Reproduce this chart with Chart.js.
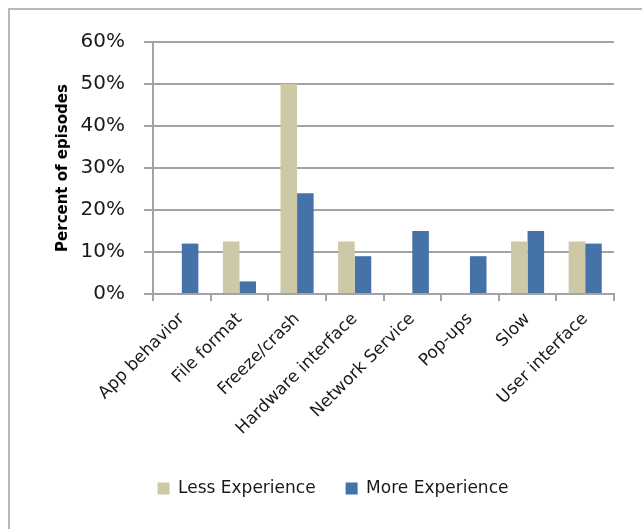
<!DOCTYPE html>
<html lang="en">

<head>
    <meta charset="UTF-8">
    <title>Percent of episodes by experience</title>
    <script src="https://cdn.jsdelivr.net/npm/chart.js@4.4.1/dist/chart.umd.min.js"></script>
    <style>
        html, body { margin: 0; padding: 0; background: #fff; overflow: hidden; width: 642px; height: 529px; }
        #frame { position: absolute; left: 8px; top: 8px; width: 700px; height: 600px; border: 2px solid #b8b8b8; }
        #myChart { position: absolute; left: 0; top: 0; }
    </style>
</head>

<body>
    <div id="frame"></div>
    <canvas id="myChart" width="642" height="529"></canvas>
    <script>
        // categories and values (percent)
        const categories = ['App behavior', 'File format', 'Freeze/crash', 'Hardware interface',
            'Network Service', 'Pop-ups', 'Slow', 'User interface'];
        const lessExperience = [0, 12.5, 50, 12.5, 0, 0, 12.5, 12.5];
        const moreExperience = [12, 3, 24, 9, 15, 9, 15, 12];
        const yTicks = [0, 10, 20, 30, 40, 50, 60];

        const gridColor = '#a3a3a3';
        const fontFam = "'DejaVu Sans', sans-serif";

        let ctx = document.getElementById('myChart').getContext('2d');
        let myChart = new Chart(ctx, {
            type: 'bar',
            data: {
                labels: categories,
                datasets: [{
                    label: 'Less Experience',
                    data: lessExperience,
                    backgroundColor: '#cdc8a5',
                    categoryPercentage: 0.575,
                    barPercentage: 1
                }, {
                    label: 'More Experience',
                    data: moreExperience,
                    backgroundColor: '#4572a7',
                    categoryPercentage: 0.575,
                    barPercentage: 1
                }]
            },
            options: {
                responsive: false,
                animation: false,
                layout: { padding: { left: 52, right: 28, top: 42, bottom: 22 } },
                plugins: {
                    tooltip: { enabled: false },
                    legend: {
                        position: 'bottom',
                        labels: {
                            color: '#1a1a1a',
                            font: { family: fontFam, size: 17 },
                            boxWidth: 12,
                            boxHeight: 12,
                            padding: 30
                        }
                    }
                },
                scales: {
                    x: {
                        afterFit: function (scale) { scale.height = 156; },
                        grid: { drawOnChartArea: false, drawTicks: true, tickLength: 7, color: gridColor, lineWidth: 2, offset: true },
                        border: { color: gridColor, width: 2 },
                        ticks: {
                            minRotation: 45,
                            maxRotation: 45,
                            padding: 8,
                            color: '#1a1a1a',
                            font: { family: fontFam, size: 17 }
                        }
                    },
                    y: {
                        min: 0,
                        max: 60,
                        afterFit: function (scale) { scale.width = 101; },
                        afterBuildTicks: function (scale) { scale.ticks = yTicks.map(v => ({ value: v })); },
                        grid: { color: gridColor, lineWidth: 2, tickLength: 9 },
                        border: { color: gridColor, width: 2 },
                        ticks: {
                            padding: 19,
                            color: '#1a1a1a',
                            font: { family: fontFam, size: 20 },
                            callback: function (value) { return value + '%'; }
                        },
                        title: {
                            display: true,
                            text: 'Percent of episodes',
                            color: '#000',
                            font: { family: fontFam, size: 15, weight: 'bold' },
                            padding: { top: 2, bottom: 0 }
                        }
                    }
                }
            }
        });
    </script>
</body>

</html>
